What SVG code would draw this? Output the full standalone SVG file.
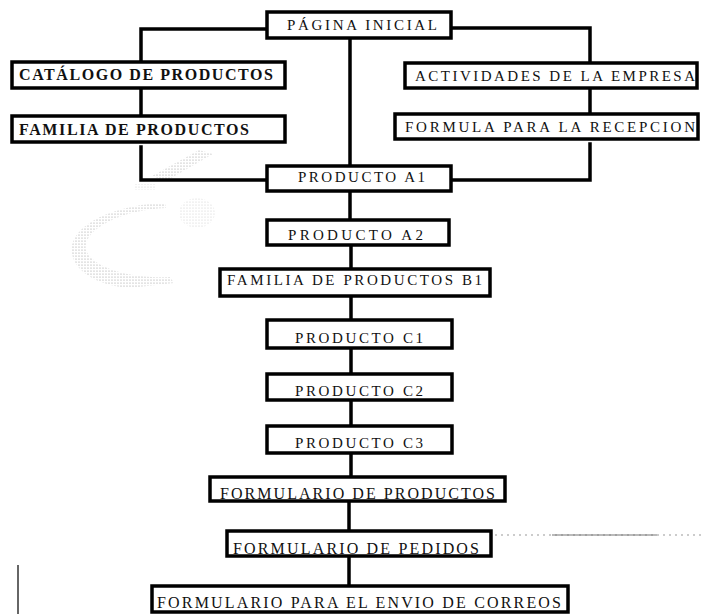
<svg xmlns="http://www.w3.org/2000/svg" width="703" height="614" viewBox="0 0 703 614">
  <style>
    .box { fill: #fff; stroke: #000; stroke-width: 3.5; }
    .link { fill: none; stroke: #000; stroke-width: 3.5; stroke-linecap: square; }
    .lbl { font-family: "Liberation Serif", "Times New Roman", serif; font-size: 15px; fill: #111; }
    .big { font-size: 16px; }
    .heavy { font-weight: bold; }
    .stip { fill: url(#dots); }
    .stip-light { fill: url(#dots); opacity: 0.5; }
  </style>
  <defs>
    <pattern id="dots" width="3" height="3" patternUnits="userSpaceOnUse">
      <circle cx="1" cy="1" r="0.6" fill="#9a9a9a"/>
    </pattern>
  </defs>

  <rect width="703" height="614" fill="#fff"/>

  <!-- stippled emblem in the background -->
  <g id="emblem">
    <path class="stip" d="M165,203 C122,204 78,220 72,245 C68,268 95,286 130,288 L174,283 L170,277 C132,279 92,268 86,250 C82,230 120,210 166,208 Z"/>
    <ellipse class="stip-light" cx="197" cy="213" rx="18" ry="15"/>
    <polygon class="stip" points="152,176 199,150 213,154 166,181"/>
    <rect class="stip-light" x="134" y="184" width="22" height="6"/>
  </g>

  <!-- connectors -->
  <g id="connectors">
    <path class="link" d="M265 29 H141 V60"/>
    <path class="link" d="M141 90 V114"/>
    <path class="link" d="M141 147 V180 H265"/>
    <path class="link" d="M452 28 H590 V61"/>
    <path class="link" d="M590 90 V112"/>
    <path class="link" d="M590 144 V180 H453"/>
    <path class="link" d="M350 39 V164"/>
    <path class="link" d="M350 193 V218"/>
    <path class="link" d="M351 247 V267"/>
    <path class="link" d="M351 298 V318"/>
    <path class="link" d="M351 350 V372"/>
    <path class="link" d="M351 402 V424"/>
    <path class="link" d="M351 455 V475"/>
    <path class="link" d="M349 503 V529"/>
    <path class="link" d="M349 558 V584"/>
  </g>

  <!-- faint rules -->
  <g id="rules">
    <path d="M477 535 H703" stroke="#999" stroke-width="1" stroke-dasharray="2 4" fill="none"/>
    <path d="M552 535 H657" stroke="#777" stroke-width="1.2" fill="none"/>
    <path d="M18 565 V614" stroke="#333" stroke-width="1.5" fill="none"/>
  </g>

  <g id="pagina-inicial">
    <rect class="box" x="267" y="12" width="184" height="26"/>
    <text class="lbl" x="287" y="30" textLength="150" lengthAdjust="spacing">PÁGINA INICIAL</text>
  </g>
  <g id="catalogo">
    <rect class="box" x="12" y="62" width="273" height="26"/>
    <text class="lbl big heavy" x="19" y="80" textLength="254" lengthAdjust="spacing">CATÁLOGO DE PRODUCTOS</text>
  </g>
  <g id="familia">
    <rect class="box" x="12" y="116" width="273" height="26"/>
    <text class="lbl big heavy" x="19" y="135" textLength="230" lengthAdjust="spacing">FAMILIA DE PRODUCTOS</text>
  </g>
  <g id="actividades">
    <rect class="box" x="405" y="63" width="292" height="25"/>
    <text class="lbl" x="415" y="81" textLength="280" lengthAdjust="spacing">ACTIVIDADES DE LA EMPRESA</text>
  </g>
  <g id="formula-recepcion">
    <rect class="box" x="395" y="114" width="303" height="25"/>
    <text class="lbl" x="405" y="132" textLength="290" lengthAdjust="spacing">FORMULA PARA LA RECEPCION</text>
  </g>
  <g id="producto-a1">
    <rect class="box" x="267" y="166" width="184" height="25"/>
    <text class="lbl" x="298" y="182" textLength="127" lengthAdjust="spacing">PRODUCTO A1</text>
  </g>
  <g id="producto-a2">
    <rect class="box" x="267" y="220" width="182" height="25"/>
    <text class="lbl" x="288" y="240" textLength="135" lengthAdjust="spacing">PRODUCTO A2</text>
  </g>
  <g id="familia-b1">
    <rect class="box" x="220" y="269" width="270" height="27"/>
    <text class="lbl" x="227" y="285" textLength="255" lengthAdjust="spacing">FAMILIA DE PRODUCTOS B1</text>
  </g>
  <g id="producto-c1">
    <rect class="box" x="267" y="320" width="185" height="28"/>
    <text class="lbl" x="295" y="343" textLength="128" lengthAdjust="spacing">PRODUCTO C1</text>
  </g>
  <g id="producto-c2">
    <rect class="box" x="267" y="374" width="185" height="26"/>
    <text class="lbl" x="295" y="396" textLength="128" lengthAdjust="spacing">PRODUCTO C2</text>
  </g>
  <g id="producto-c3">
    <rect class="box" x="267" y="426" width="185" height="27"/>
    <text class="lbl" x="295" y="448" textLength="128" lengthAdjust="spacing">PRODUCTO C3</text>
  </g>
  <g id="formulario-productos">
    <rect class="box" x="210" y="477" width="295" height="24"/>
    <text class="lbl big" x="220" y="499" textLength="275" lengthAdjust="spacing">FORMULARIO DE PRODUCTOS</text>
  </g>
  <g id="formulario-pedidos">
    <rect class="box" x="227" y="531" width="264" height="25"/>
    <text class="lbl big" x="233" y="554" textLength="246" lengthAdjust="spacing">FORMULARIO DE PEDIDOS</text>
  </g>
  <g id="formulario-envio">
    <rect class="box" x="152" y="586" width="416" height="26"/>
    <text class="lbl big" x="157" y="608" textLength="404" lengthAdjust="spacing">FORMULARIO PARA EL ENVIO DE CORREOS</text>
  </g>
</svg>
